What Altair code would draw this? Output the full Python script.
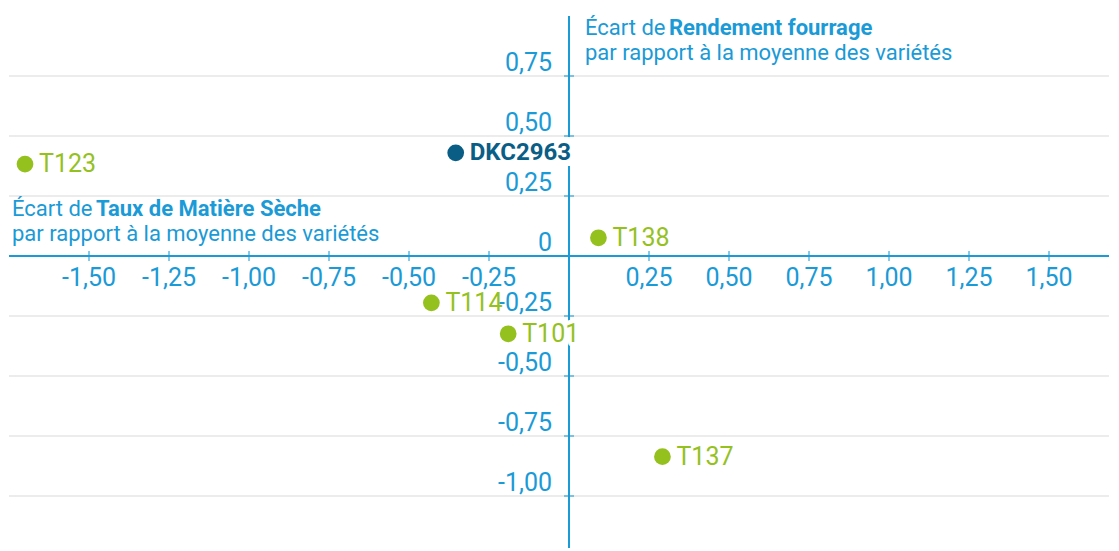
import altair as alt
import pandas as pd

# ---- data ----
VARIETIES = ["DKC2963", "T123", "T138", "T114", "T101", "T137"]
MS_DEV = [-0.354, -1.70, 0.092, -0.43, -0.19, 0.292]       # écart taux de matière sèche
YIELD_DEV = [0.43, 0.383, 0.076, -0.195, -0.324, -0.836]   # écart rendement fourrage
HIGHLIGHT = "DKC2963"
HALO_LABELS = ["DKC2963", "T101"]

X_TICKS = [-1.5, -1.25, -1.0, -0.75, -0.5, -0.25, 0.25, 0.5, 0.75, 1.0, 1.25, 1.5]
X_TICK_LABELS = ["-1,50", "-1,25", "-1,00", "-0,75", "-0,50", "-0,25",
                 "0,25", "0,50", "0,75", "1,00", "1,25", "1,50"]
Y_TICKS = [0.75, 0.5, 0.25, -0.25, -0.5, -0.75, -1.0]
Y_LABEL_VALUES = [0.75, 0.5, 0.25, 0, -0.25, -0.5, -0.75, -1.0]
Y_TICK_LABELS = ["0,75", "0,50", "0,25", "0", "-0,25", "-0,50", "-0,75", "-1,00"]

Y_TITLE_1 = "Écart de "
Y_TITLE_1B = "Rendement fourrage"
Y_TITLE_2 = "par rapport à la moyenne des variétés"
X_TITLE_1 = "Écart de "
X_TITLE_1B = "Taux de Matière Sèche"
X_TITLE_2 = "par rapport à la moyenne des variétés"

BLUE = "#1a9ad6"
GREEN = "#95c11f"
DARK = "#0a5e86"
GRID = "#e6e6e6"
FONT = "Roboto"

xs = alt.Scale(domain=[-1.75, 1.6875], nice=False, zero=False)
ys = alt.Scale(domain=[-1.21667, 1.0], nice=False, zero=False)

pts = pd.DataFrame({"name": VARIETIES, "x": MS_DEV, "y": YIELD_DEV})
xt = pd.DataFrame({"v": X_TICKS, "z": [0] * len(X_TICKS)})
xl = pd.DataFrame({"v": X_TICKS, "lab": X_TICK_LABELS, "z": [0] * len(X_TICKS)})
yt = pd.DataFrame({"v": Y_TICKS, "z": [0] * len(Y_TICKS)})
yl = pd.DataFrame({"v": Y_LABEL_VALUES, "lab": Y_TICK_LABELS, "z": [0] * len(Y_LABEL_VALUES)})
zero = pd.DataFrame({"v": [0]})

X = lambda f: alt.X(f, type="quantitative", scale=xs, axis=None)
Y = lambda f: alt.Y(f, type="quantitative", scale=ys, axis=None)

grid = alt.Chart(yt).mark_rule(color=GRID, strokeWidth=1.5).encode(y=Y("v"))
xaxis = alt.Chart(zero).mark_rule(color=BLUE, strokeWidth=2).encode(y=Y("v"))
yaxis = alt.Chart(zero).mark_rule(color=BLUE, strokeWidth=2).encode(x=X("v"))
xticks = alt.Chart(xt).mark_tick(orient="vertical", size=10, thickness=1.5, color=BLUE).encode(
    x=X("v"), y=Y("z"))
yticks = alt.Chart(yt).mark_tick(orient="horizontal", size=10, thickness=1.5, color=BLUE).encode(
    x=X("z"), y=Y("v"))
xlabels = alt.Chart(xl).mark_text(font=FONT, fontSize=25, color=BLUE, baseline="middle",
                                  align="center", dy=22).encode(x=X("v"), y=Y("z"), text="lab:N")
ylabels = alt.Chart(yl).mark_text(font=FONT, fontSize=25, color=BLUE, baseline="alphabetic",
                                  align="right", dx=-17, dy=-5).encode(x=X("z"), y=Y("v"), text="lab:N")

halo = alt.Chart(pts).transform_filter(
    alt.FieldOneOfPredicate(field="name", oneOf=HALO_LABELS)
).mark_text(font=FONT, fontSize=25, fontWeight="bold", color="white", stroke="white",
            strokeWidth=10, strokeJoin="round", align="left", baseline="middle", dx=14).encode(
    x=X("x"), y=Y("y"), text="name:N")

others = pts[pts["name"] != HIGHLIGHT]
hi = pts[pts["name"] == HIGHLIGHT]

dots_o = alt.Chart(others).mark_circle(size=280, opacity=1, color=GREEN).encode(x=X("x"), y=Y("y"))
lab_o = alt.Chart(others).mark_text(font=FONT, fontSize=25, color=GREEN, align="left",
                                    baseline="middle", dx=14).encode(x=X("x"), y=Y("y"), text="name:N")
dots_h = alt.Chart(hi).mark_circle(size=280, opacity=1, color=DARK).encode(x=X("x"), y=Y("y"))
lab_h = alt.Chart(hi).mark_text(font=FONT, fontSize=24, fontWeight="bold", color=DARK, align="left",
                                baseline="middle", dx=14).encode(x=X("x"), y=Y("y"), text="name:N")


def txt(s, x, y, bold=False):
    return alt.Chart(pd.DataFrame({"t": [s]})).mark_text(
        font=FONT, fontSize=22, color=BLUE, align="left", baseline="alphabetic",
        fontWeight="bold" if bold else "normal").encode(
        x=alt.value(x), y=alt.value(y), text="t:N")


titles = [
    txt(Y_TITLE_1, 576, 19), txt(Y_TITLE_1B, 660, 19, True), txt(Y_TITLE_2, 576, 44),
    txt(X_TITLE_1, 3, 200), txt(X_TITLE_1B, 87, 200, True), txt(X_TITLE_2, 3, 225),
]

chart = alt.layer(
    grid, xaxis, yaxis, xticks, yticks, halo, xlabels, ylabels,
    dots_o, lab_o, dots_h, lab_h, *titles
).properties(
    width=1100, height=532,
    padding={"left": 1, "top": 8, "right": 0, "bottom": 0},
    autosize=alt.AutoSizeParams(type="none"),
).configure_view(stroke=None)

chart.save("out.html", embed_options={"renderer": "svg", "actions": False})
